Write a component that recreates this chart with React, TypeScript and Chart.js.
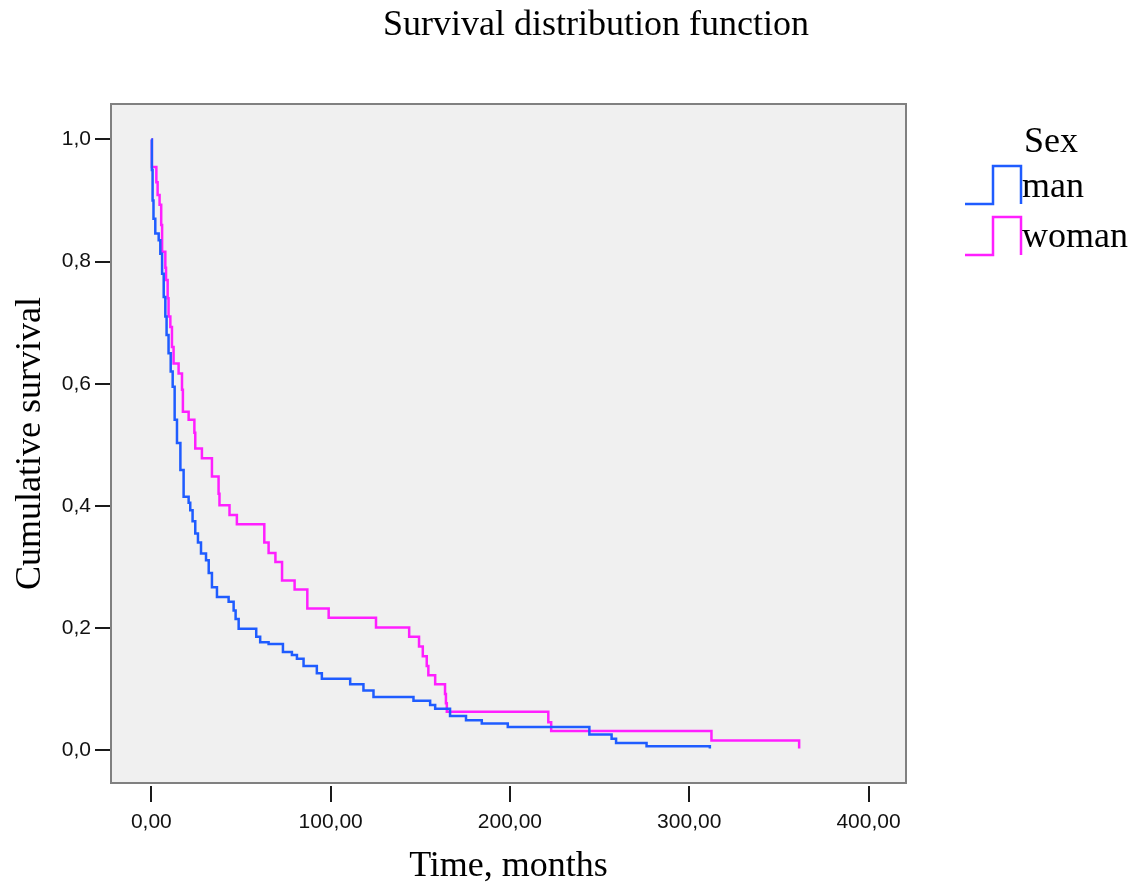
import React, { useEffect, useRef } from 'react';
import Chart from 'chart.js/auto';

const TITLE = 'Survival distribution function';
const X_TITLE = 'Time, months';
const Y_TITLE = 'Cumulative survival';
const LEGEND_TITLE = 'Sex';
const SERIES_NAMES = ['man', 'woman'];
const SERIES_COLORS = ['#1f5cff', '#ff1fff'];

const xTickValues = [0, 100, 200, 300, 400];
const yTickValues = [0, 0.2, 0.4, 0.6, 0.8, 1.0];

const manTime = [0, 0.3, 0.7, 1.2, 2.2, 4.1, 5.0, 6.0, 6.9, 7.8, 8.5, 9.6, 10.8, 11.9, 13.0, 14.3, 16.2, 18.0, 20.8, 21.7, 23.0, 24.5, 26.0, 27.7, 30.5, 32.0, 33.8, 36.6, 43.1, 45.9, 47.0, 48.7, 58.5, 60.7, 65.4, 73.4, 78.4, 81.2, 84.9, 92.3, 95.1, 110.9, 118.3, 123.9, 146.2, 155.5, 158.3, 166.6, 175.5, 184.3, 198.8, 244.3, 256.7, 259.2, 276.2, 311.5];
const manSurv = [1.0, 0.95, 0.9, 0.87, 0.846, 0.835, 0.813, 0.78, 0.742, 0.71, 0.68, 0.65, 0.62, 0.595, 0.541, 0.503, 0.459, 0.415, 0.405, 0.393, 0.375, 0.355, 0.34, 0.322, 0.311, 0.29, 0.267, 0.251, 0.243, 0.229, 0.215, 0.199, 0.186, 0.177, 0.174, 0.161, 0.156, 0.15, 0.138, 0.126, 0.117, 0.108, 0.098, 0.087, 0.081, 0.074, 0.068, 0.056, 0.049, 0.044, 0.038, 0.026, 0.019, 0.012, 0.0066, 0.003];

const womanTime = [0, 0.3, 2.8, 3.5, 4.6, 5.5, 6.0, 7.8, 8.2, 9.1, 9.6, 10.6, 11.5, 12.4, 15.2, 17.1, 17.6, 20.8, 24.0, 24.5, 28.2, 33.8, 37.5, 38.0, 43.6, 47.7, 63.0, 65.4, 69.2, 72.9, 79.9, 87.0, 98.9, 125.3, 143.8, 149.3, 151.4, 153.6, 154.5, 158.3, 163.8, 164.3, 164.8, 221.4, 223.0, 312.4, 361.3];
const womanSurv = [1.0, 0.955, 0.93, 0.909, 0.893, 0.86, 0.816, 0.79, 0.77, 0.74, 0.71, 0.693, 0.66, 0.633, 0.617, 0.59, 0.554, 0.541, 0.52, 0.494, 0.478, 0.448, 0.42, 0.401, 0.385, 0.37, 0.34, 0.323, 0.308, 0.278, 0.263, 0.232, 0.217, 0.201, 0.186, 0.17, 0.154, 0.138, 0.123, 0.108, 0.092, 0.077, 0.063, 0.046, 0.0316, 0.016, 0.003];

const X_MIN = -22.5;
const X_MAX = 420.9;
const Y_MIN = -0.0536;
const Y_MAX = 1.058;

const SERIF = '"Liberation Serif", "Times New Roman", serif';
const SANS = '"Liberation Sans", Arial, sans-serif';

const decor = {
  id: 'decor',
  beforeDraw(chart: any) {
    const { ctx, chartArea: a } = chart;
    ctx.save();
    ctx.fillStyle = '#ffffff';
    ctx.fillRect(0, 0, chart.width, chart.height);
    ctx.fillStyle = '#f0f0f0';
    ctx.fillRect(a.left, a.top, a.right - a.left, a.bottom - a.top);
    ctx.restore();
  },
  afterDraw(chart: any) {
    const { ctx, chartArea: a } = chart;
    const xs = chart.scales.x;
    ctx.save();
    // plot border
    ctx.strokeStyle = '#808080';
    ctx.lineWidth = 2;
    ctx.strokeRect(a.left, a.top, a.right - a.left, a.bottom - a.top);
    // x tick marks
    ctx.strokeStyle = '#1a1a1a';
    ctx.lineWidth = 2;
    xTickValues.forEach((v) => {
      const px = Math.round(xs.getPixelForValue(v));
      ctx.beginPath();
      ctx.moveTo(px, a.bottom + 3);
      ctx.lineTo(px, a.bottom + 19);
      ctx.stroke();
    });
    ctx.fillStyle = '#000';
    ctx.textBaseline = 'alphabetic';
    ctx.font = `36px ${SERIF}`;
    ctx.textAlign = 'center';
    ctx.fillText(TITLE, 596, 35);
    ctx.fillText(X_TITLE, (a.left + a.right) / 2, 876);
    ctx.save();
    ctx.translate(40, (a.top + a.bottom) / 2);
    ctx.rotate(-Math.PI / 2);
    ctx.fillText(Y_TITLE, 0, 0);
    ctx.restore();
    // legend
    ctx.textAlign = 'left';
    ctx.fillText(LEGEND_TITLE, 1024, 152);
    const rows = [
      { top: 166, bottom: 204, base: 197 },
      { top: 217, bottom: 255, base: 247 },
    ];
    rows.forEach((r, i) => {
      ctx.strokeStyle = SERIES_COLORS[i];
      ctx.lineWidth = 2.5;
      ctx.beginPath();
      ctx.moveTo(965, r.bottom);
      ctx.lineTo(993, r.bottom);
      ctx.lineTo(993, r.top);
      ctx.lineTo(1021, r.top);
      ctx.lineTo(1021, r.bottom);
      ctx.stroke();
      ctx.fillStyle = '#000';
      ctx.fillText(SERIES_NAMES[i], 1022, r.base);
    });
    ctx.restore();
  },
};

export default function App() {
  const ref = useRef<HTMLCanvasElement>(null);
  useEffect(() => {
    document.body.style.margin = '0';
    const mk = (t: number[], s: number[]) => t.map((x, i) => ({ x, y: s[i] }));
    const chart = new Chart(ref.current!, {
      type: 'line',
      data: {
        datasets: [
          {
            label: SERIES_NAMES[0],
            data: mk(manTime, manSurv),
            borderColor: SERIES_COLORS[0],
            borderWidth: 2.5,
            pointRadius: 0,
            stepped: 'before',
            fill: false,
          },
          {
            label: SERIES_NAMES[1],
            data: mk(womanTime, womanSurv),
            borderColor: SERIES_COLORS[1],
            borderWidth: 2.5,
            pointRadius: 0,
            stepped: 'before',
            fill: false,
          },
        ],
      },
      options: {
        responsive: false,
        animation: false,
        devicePixelRatio: 1,
        layout: { padding: { top: 104, right: 232, left: 0, bottom: 0 } },
        plugins: {
          legend: { display: false },
          title: { display: false },
          tooltip: { enabled: false },
        },
        scales: {
          x: {
            type: 'linear',
            min: X_MIN,
            max: X_MAX,
            afterFit: (s: any) => {
              s.height = 103;
            },
            afterBuildTicks: (s: any) => {
              s.ticks = xTickValues.map((v) => ({ value: v }));
            },
            grid: { display: false, drawTicks: false },
            border: { display: false },
            ticks: {
              autoSkip: false,
              maxRotation: 0,
              padding: 27,
              color: '#111',
              font: { family: SANS, size: 21 },
              callback: (v: any) => Number(v).toFixed(2).replace('.', ','),
            },
          },
          y: {
            type: 'linear',
            min: Y_MIN,
            max: Y_MAX,
            afterFit: (s: any) => {
              s.width = 111;
            },
            afterBuildTicks: (s: any) => {
              s.ticks = yTickValues.map((v) => ({ value: v }));
            },
            grid: {
              display: true,
              drawOnChartArea: false,
              drawTicks: true,
              tickLength: 16,
              color: '#1a1a1a',
              lineWidth: 2,
            },
            border: { display: false },
            ticks: {
              autoSkip: false,
              padding: 4,
              color: '#111',
              font: { family: SANS, size: 21 },
              callback: (v: any) => Number(v).toFixed(1).replace('.', ','),
            },
          },
        },
      },
      plugins: [decor],
    } as any);
    return () => chart.destroy();
  }, []);
  return (
    <div style={{ width: 1138, height: 886 }}>
      <canvas ref={ref} width={1138} height={886} style={{ display: 'block' }} />
    </div>
  );
}
